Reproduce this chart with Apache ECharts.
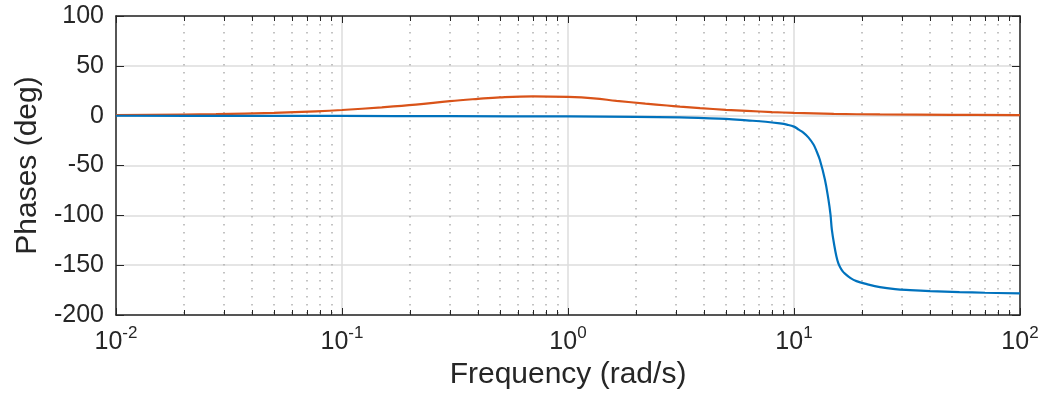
<!DOCTYPE html>
<html>
<head>
<meta charset="utf-8">
<script src="https://cdn.jsdelivr.net/npm/echarts@6/dist/echarts.min.js"></script>
<style>
  html, body { margin: 0; padding: 0; background: #fff; }
  #main { width: 1056px; height: 404px; }
</style>
</head>
<body>
<div id="main"></div>
<script>
// phase curves (rad/s, deg)
var blueFreq  = [0.01, 0.03, 0.1, 0.3, 1, 2, 3.13, 4, 5, 6.18, 7.5, 8.67, 9.3, 10, 10.5, 11, 11.6, 12.2, 12.6, 13, 13.7, 14.2, 14.5, 14.7, 15.1, 15.4, 15.7, 16.0, 16.4, 16.8, 17.8, 18.9, 21, 24, 28, 32.6, 40, 54, 70, 100];
var bluePhase = [-0.1, -0.2, -0.3, -0.5, -0.8, -1.2, -1.8, -2.5, -3.3, -4.7, -6.1, -7.8, -9, -11, -14, -17, -22, -29, -36, -44, -64, -84, -99, -114, -131, -141, -148, -152, -156, -158.5, -163, -166, -169, -172, -174, -175, -176, -177, -177.7, -178.3];

var orangeFreq  = [0.01, 0.0277, 0.05, 0.0767, 0.1, 0.15, 0.212, 0.3, 0.4, 0.5, 0.7, 1.0, 1.3, 1.64, 2.2, 2.74, 3.13, 3.84, 5, 6.18, 8, 10, 15, 24, 50, 100];
var orangePhase = [0.5, 1.6, 2.9, 4.4, 5.7, 8.3, 11, 14.6, 16.9, 18.4, 19.4, 18.8, 17.4, 14.9, 12.1, 10.2, 9.1, 7.6, 5.9, 4.8, 3.6, 2.8, 1.8, 1.2, 0.8, 0.5];

var yTicks = [-200, -150, -100, -50, 0, 50, 100];

function pairs(xs, ys) {
  var out = [];
  for (var i = 0; i < xs.length; i++) out.push([xs[i], ys[i]]);
  return out;
}

var axisColor = '#262626';
var font = 'Liberation Sans';

var chart = echarts.init(document.getElementById('main'));

var option = {
  animation: false,
  backgroundColor: '#ffffff',
  grid: { left: 116, right: 36, top: 16, bottom: 89, containLabel: false },
  xAxis: [
    {
      type: 'log',
      logBase: 10,
      min: 0.01,
      max: 100,
      position: 'bottom',
      name: 'Frequency (rad/s)',
      nameLocation: 'middle',
      nameGap: 43,
      nameTextStyle: { fontFamily: font, fontSize: 30, color: axisColor },
      axisLine: { onZero: false, lineStyle: { color: axisColor, width: 1.5 } },
      axisTick: { inside: true, length: 7, lineStyle: { color: axisColor } },
      minorTick: { show: true, splitNumber: 9, length: 5, lineStyle: { color: axisColor } },
      axisLabel: {
        margin: 10,
        showMinLabel: true,
        showMaxLabel: true,
        formatter: function (v) {
          return '{b|10}{s|' + Math.round(Math.log10(v)) + '}';
        },
        rich: {
          b: { fontFamily: font, fontSize: 25, color: axisColor, verticalAlign: 'bottom', lineHeight: 30 },
          s: { fontFamily: font, fontSize: 17, color: axisColor, verticalAlign: 'top', lineHeight: 17 }
        }
      },
      splitLine: { show: true, lineStyle: { color: '#dddddd', width: 1.5 } },
      minorSplitLine: { show: true, lineStyle: { color: '#b0b0b0', width: 1.5, type: [1.5, 6.5] } }
    },
    {
      type: 'log',
      logBase: 10,
      min: 0.01,
      max: 100,
      position: 'top',
      axisLine: { onZero: false, lineStyle: { color: axisColor, width: 1.5 } },
      axisTick: { inside: true, length: 7, lineStyle: { color: axisColor } },
      minorTick: { show: true, splitNumber: 9, length: 5, lineStyle: { color: axisColor } },
      axisLabel: { show: false },
      splitLine: { show: false }
    }
  ],
  yAxis: [
    {
      type: 'value',
      min: yTicks[0],
      max: yTicks[yTicks.length - 1],
      interval: 50,
      position: 'left',
      name: 'Phases (deg)',
      nameLocation: 'middle',
      nameGap: 70,
      nameTextStyle: { fontFamily: font, fontSize: 30, color: axisColor },
      axisLine: { show: true, onZero: false, lineStyle: { color: axisColor, width: 1.5 } },
      axisTick: { show: true, inside: true, length: 8, lineStyle: { color: axisColor } },
      axisLabel: { margin: 12, fontFamily: font, fontSize: 25, color: axisColor },
      splitLine: { show: true, lineStyle: { color: '#dddddd', width: 1.5 } }
    },
    {
      type: 'value',
      min: yTicks[0],
      max: yTicks[yTicks.length - 1],
      interval: 50,
      position: 'right',
      axisLine: { show: true, onZero: false, lineStyle: { color: axisColor, width: 1.5 } },
      axisTick: { show: true, inside: true, length: 8, lineStyle: { color: axisColor } },
      axisLabel: { show: false },
      splitLine: { show: false }
    }
  ],
  series: [
    {
      name: 'blue',
      type: 'line',
      data: pairs(blueFreq, bluePhase),
      showSymbol: false,
      smooth: 0.4,
      lineStyle: { color: '#0072BD', width: 2.2 },
      z: 3
    },
    {
      name: 'orange',
      type: 'line',
      data: pairs(orangeFreq, orangePhase),
      showSymbol: false,
      smooth: 0.4,
      lineStyle: { color: '#D95319', width: 2.2 },
      z: 2
    }
  ]
};

chart.setOption(option);
</script>
</body>
</html>
